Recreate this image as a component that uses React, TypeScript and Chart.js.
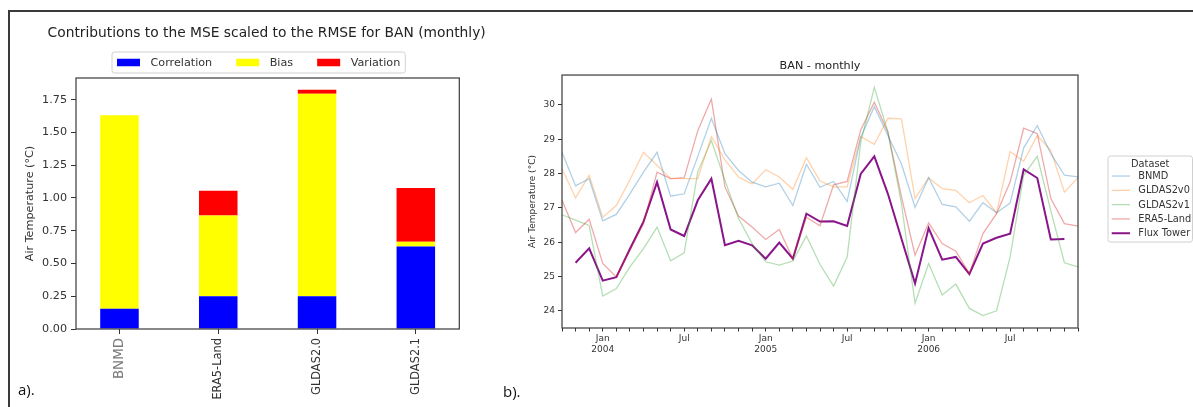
import React, { useEffect, useRef } from 'react';
import { Chart, registerables } from 'chart.js';

Chart.register(...registerables);

const FONT = "'DejaVu Sans', sans-serif";

// ---------- Panel a: stacked bars ----------
const barCategories = ['BNMD', 'ERA5-Land', 'GLDAS2.0', 'GLDAS2.1'];
const correlation = [0.155, 0.25, 0.25, 0.63];
const bias = [1.475, 0.615, 1.545, 0.035];
const variation = [0.0, 0.19, 0.03, 0.41];
const barYTicks = [0, 0.25, 0.5, 0.75, 1.0, 1.25, 1.5, 1.75];
const barTitle = 'Contributions to the MSE scaled to the RMSE for BAN (monthly)';
const barLegend = [
  { label: 'Correlation', color: '#0000ff' },
  { label: 'Bias', color: '#ffff00' },
  { label: 'Variation', color: '#ff0000' },
];

// ---------- Panel b: monthly lines ----------
const months = [
  '2003-10', '2003-11', '2003-12',
  '2004-01', '2004-02', '2004-03', '2004-04', '2004-05', '2004-06',
  '2004-07', '2004-08', '2004-09', '2004-10', '2004-11', '2004-12',
  '2005-01', '2005-02', '2005-03', '2005-04', '2005-05', '2005-06',
  '2005-07', '2005-08', '2005-09', '2005-10', '2005-11', '2005-12',
  '2006-01', '2006-02', '2006-03', '2006-04', '2006-05', '2006-06',
  '2006-07', '2006-08', '2006-09', '2006-10', '2006-11', '2006-12',
];
const majorMonths = ['2004-01', '2004-07', '2005-01', '2005-07', '2006-01', '2006-07'];
const majorLabels = [['Jan', '2004'], ['Jul'], ['Jan', '2005'], ['Jul'], ['Jan', '2006'], ['Jul']];
const lineYTicks = [24, 25, 26, 27, 28, 29, 30];

const bnmd = [28.62, 27.64, 27.85, 26.62, 26.81, 27.41, 28.04, 28.62, 27.34, 27.41, 28.5, 29.61, 28.58, 28.09, 27.75, 27.61, 27.72, 27.07, 28.27, 27.6, 27.77, 27.19, 29.06, 29.95, 29.11, 28.28, 27.01, 27.88, 27.1, 27.03, 26.61, 27.15, 26.86, 27.14, 28.75, 29.4, 28.58, 27.95, 27.9];
const gldas2v0 = [28.14, 27.29, 27.95, 26.73, 27.07, 27.82, 28.62, 28.24, 27.85, 27.85, 27.85, 29.08, 28.4, 27.9, 27.7, 28.11, 27.9, 27.54, 28.46, 27.78, 27.61, 27.61, 29.08, 28.85, 29.61, 29.59, 27.27, 27.88, 27.56, 27.51, 27.15, 27.36, 26.85, 28.64, 28.36, 29.11, 28.67, 27.46, 27.88];
const gldas2v1 = [26.8, 26.64, 26.49, 24.43, 24.65, 25.28, 25.81, 26.44, 25.46, 25.69, 28.05, 28.96, 27.8, 26.69, 25.96, 25.43, 25.33, 25.45, 26.18, 25.35, 24.72, 25.57, 28.91, 30.51, 29.21, 27.12, 24.22, 25.38, 24.46, 24.78, 24.07, 23.86, 24.0, 25.57, 27.95, 28.5, 26.91, 25.4, 25.28];
const era5Land = [27.22, 26.28, 26.67, 25.38, 24.99, 25.77, 26.54, 28.04, 27.85, 27.88, 29.25, 30.17, 27.61, 26.76, 26.44, 26.08, 26.37, 25.52, 26.73, 26.48, 27.67, 27.77, 29.27, 30.08, 29.21, 27.32, 25.62, 26.56, 25.96, 25.74, 25.09, 26.25, 26.83, 27.75, 29.32, 29.16, 27.27, 26.54, 26.47];
const fluxTower = [null, 25.4, 25.82, 24.88, 24.98, 25.8, 26.6, 27.75, 26.37, 26.18, 27.22, 27.85, 25.91, 26.04, 25.91, 25.52, 25.99, 25.52, 26.83, 26.6, 26.61, 26.47, 27.99, 28.5, 27.41, 26.1, 24.8, 26.41, 25.49, 25.57, 25.07, 25.96, 26.13, 26.25, 28.12, 27.87, 26.08, 26.09, null];

const lineSeries = [
  { label: 'BNMD', data: bnmd, color: 'rgba(31,119,180,0.35)', width: 1.3 },
  { label: 'GLDAS2v0', data: gldas2v0, color: 'rgba(255,127,14,0.35)', width: 1.3 },
  { label: 'GLDAS2v1', data: gldas2v1, color: 'rgba(44,160,44,0.35)', width: 1.3 },
  { label: 'ERA5-Land', data: era5Land, color: 'rgba(214,39,40,0.4)', width: 1.3 },
  { label: 'Flux Tower', data: fluxTower, color: 'rgba(128,0,128,0.92)', width: 2 },
];

const spinesPlugin = {
  id: 'spines',
  afterDatasetsDraw(chart: any) {
    const { ctx, chartArea: a } = chart;
    ctx.save();
    ctx.strokeStyle = '#3a3a3a';
    ctx.lineWidth = 1.2;
    ctx.strokeRect(a.left, a.top, a.right - a.left, a.bottom - a.top);
    ctx.restore();
  },
};

function roundRect(ctx: CanvasRenderingContext2D, x: number, y: number, w: number, h: number, r: number) {
  ctx.beginPath();
  ctx.moveTo(x + r, y);
  ctx.lineTo(x + w - r, y);
  ctx.quadraticCurveTo(x + w, y, x + w, y + r);
  ctx.lineTo(x + w, y + h - r);
  ctx.quadraticCurveTo(x + w, y + h, x + w - r, y + h);
  ctx.lineTo(x + r, y + h);
  ctx.quadraticCurveTo(x, y + h, x, y + h - r);
  ctx.lineTo(x, y + r);
  ctx.quadraticCurveTo(x, y, x + r, y);
  ctx.closePath();
}

// Title + legend of panel a, drawn above the plot area
const barHeaderPlugin = {
  id: 'barHeader',
  afterDraw(chart: any) {
    const { ctx, chartArea: a } = chart;
    ctx.save();
    // title
    ctx.font = `13.8px ${FONT}`;
    ctx.fillStyle = '#222';
    ctx.textAlign = 'center';
    ctx.textBaseline = 'middle';
    ctx.fillText(barTitle, (a.left + a.right) / 2 - 1, a.top - 45);
    // legend
    ctx.font = `11.2px ${FONT}`;
    const boxW = 23, boxH = 7.5, gap = 10.5, colSp = 24, padX = 5;
    const widths = barLegend.map((it) => ctx.measureText(it.label).width);
    let total = 0;
    widths.forEach((w, i) => { total += boxW + gap + w + (i > 0 ? colSp : 0); });
    const cx = (a.left + a.right) / 2 - 9;
    const top = a.top - 26;
    const h = 21;
    let x = cx - total / 2;
    ctx.fillStyle = 'rgba(255,255,255,0.8)';
    ctx.strokeStyle = '#d0d0d0';
    ctx.lineWidth = 1;
    roundRect(ctx, x - padX, top, total + 2 * padX, h, 2.5);
    ctx.fill();
    ctx.stroke();
    const cy = top + h / 2;
    ctx.textAlign = 'left';
    barLegend.forEach((it, i) => {
      ctx.fillStyle = it.color;
      ctx.fillRect(x, cy - boxH / 2, boxW, boxH);
      ctx.fillStyle = '#333';
      ctx.fillText(it.label, x + boxW + gap, cy + 0.5);
      x += boxW + gap + widths[i] + colSp;
    });
    ctx.restore();
  },
};

const lineLegendPlugin = {
  id: 'lineLegend',
  afterDraw(chart: any) {
    const { ctx, chartArea: a } = chart;
    ctx.save();
    const left = a.right + 30;
    const top = a.top + 81;
    const w = 84.5, h = 86;
    ctx.fillStyle = 'rgba(255,255,255,0.8)';
    ctx.strokeStyle = '#d0d0d0';
    ctx.lineWidth = 1;
    roundRect(ctx, left, top, w, h, 2.5);
    ctx.fill();
    ctx.stroke();
    ctx.textBaseline = 'middle';
    ctx.font = `9.8px ${FONT}`;
    ctx.fillStyle = '#333';
    ctx.textAlign = 'center';
    ctx.fillText('Dataset', left + w / 2, top + 8.5);
    ctx.textAlign = 'left';
    lineSeries.forEach((s, i) => {
      const y = top + 20 + i * 14.3;
      ctx.strokeStyle = s.color;
      ctx.lineWidth = s.width;
      ctx.beginPath();
      ctx.moveTo(left + 3.7, y);
      ctx.lineTo(left + 22, y);
      ctx.stroke();
      ctx.fillStyle = '#333';
      ctx.fillText(s.label, left + 30.3, y + 0.5);
    });
    ctx.restore();
  },
};

function BarPanel() {
  const ref = useRef<HTMLCanvasElement>(null);
  useEffect(() => {
    const toXY = (arr: number[]) => arr.map((v, i) => ({ x: i, y: v }));
    const chart = new Chart(ref.current as HTMLCanvasElement, {
      type: 'bar',
      data: {
        datasets: [
          { label: 'Correlation', data: toXY(correlation), backgroundColor: '#0000ff' },
          { label: 'Bias', data: toXY(bias), backgroundColor: '#ffff00' },
          { label: 'Variation', data: toXY(variation), backgroundColor: '#ff0000' },
        ] as any,
      },
      options: {
        responsive: false,
        animation: false,
        devicePixelRatio: 1,
        layout: { padding: { left: 0, right: 38.7, top: 66, bottom: 0 } },
        datasets: { bar: { categoryPercentage: 1, barPercentage: 0.39 } } as any,
        plugins: {
          legend: { display: false },
          tooltip: { enabled: false },
          title: { display: false },
        },
        scales: {
          x: {
            type: 'linear',
            offset: false,
            min: -0.44,
            max: 3.44,
            stacked: true,
            afterBuildTicks: (s: any) => { s.ticks = barCategories.map((_, i) => ({ value: i })); },
            afterFit: (s: any) => { s.height = 78; },
            ticks: {
              autoSkip: false,
              minRotation: 90,
              maxRotation: 90,
              padding: 4,
              callback: (v: any) => barCategories[Math.round(Number(v))],
              font: (c: any) => ({ family: FONT, size: c.index === 0 ? 13.4 : 11.4 }),
              color: (c: any) => (c.index === 0 ? '#7a7a7a' : '#333'),
            },
            grid: { offset: false, drawOnChartArea: false, tickLength: 5, color: '#333' },
            border: { display: false },
          },
          y: {
            type: 'linear',
            min: 0,
            max: 1.915,
            stacked: true,
            afterBuildTicks: (s: any) => { s.ticks = barYTicks.map((v) => ({ value: v })); },
            afterFit: (s: any) => { s.width = 68; },
            ticks: {
              padding: 4,
              callback: (v: any) => Number(v).toFixed(2),
              font: { family: FONT, size: 11.2 },
              color: '#333',
            },
            grid: { drawOnChartArea: false, tickLength: 5, color: '#333' },
            border: { display: false },
            title: {
              display: true,
              text: 'Air Temperature (°C)',
              color: '#333',
              font: { family: FONT, size: 11.2 },
              padding: { top: 15, bottom: 0 },
            },
          },
        },
      } as any,
      plugins: [spinesPlugin, barHeaderPlugin],
    });
    return () => chart.destroy();
  }, []);
  return <canvas ref={ref} width={490} height={395} style={{ position: 'absolute', left: 8, top: 12, width: 490, height: 395 }} />;
}

function LinePanel() {
  const ref = useRef<HTMLCanvasElement>(null);
  useEffect(() => {
    const chart = new Chart(ref.current as HTMLCanvasElement, {
      type: 'line',
      data: {
        labels: months,
        datasets: lineSeries.map((s) => ({
          label: s.label,
          data: s.data,
          borderColor: s.color,
          backgroundColor: s.color,
          borderWidth: s.width,
          pointRadius: 0,
          tension: 0,
          spanGaps: false,
        })) as any,
      },
      options: {
        responsive: false,
        animation: false,
        devicePixelRatio: 1,
        layout: { padding: { left: 0, right: 115, top: 0, bottom: 0 } },
        plugins: {
          legend: { display: false },
          tooltip: { enabled: false },
          title: {
            display: true,
            text: 'BAN - monthly',
            fullSize: false,
            color: '#222',
            font: { family: FONT, size: 11.2, weight: 'normal', lineHeight: 1.2 },
            padding: { top: 47.3, bottom: 2.3 },
          },
        },
        scales: {
          x: {
            type: 'category',
            offset: false,
            afterFit: (s: any) => { s.height = 79; },
            ticks: {
              autoSkip: false,
              minRotation: 0,
              maxRotation: 0,
              padding: 2,
              callback: (_v: any, i: number) => {
                const k = majorMonths.indexOf(months[i]);
                return k >= 0 ? majorLabels[k] : '';
              },
              font: { family: FONT, size: 9, lineHeight: 1.2 },
              color: '#333',
            },
            grid: { drawOnChartArea: false, tickLength: 3.5, color: '#333' },
            border: { display: false },
          },
          y: {
            type: 'linear',
            min: 23.5,
            max: 30.87,
            afterBuildTicks: (s: any) => { s.ticks = lineYTicks.map((v) => ({ value: v })); },
            afterFit: (s: any) => { s.width = 62; },
            ticks: {
              padding: 3,
              callback: (v: any) => String(v),
              font: { family: FONT, size: 9 },
              color: '#333',
            },
            grid: { drawOnChartArea: false, tickLength: 4, color: '#333' },
            border: { display: false },
            title: {
              display: true,
              text: 'Air Temperature (°C)',
              color: '#333',
              font: { family: FONT, size: 9 },
              padding: { top: 27.6, bottom: 0 },
            },
          },
        },
      } as any,
      plugins: [spinesPlugin, lineLegendPlugin],
    });
    return () => chart.destroy();
  }, []);
  return <canvas ref={ref} width={693} height={395} style={{ position: 'absolute', left: 500, top: 12, width: 693, height: 395 }} />;
}

export default function App() {
  return (
    <div style={{ position: 'fixed', left: 0, top: 0, width: 1193, height: 407, background: '#fff', overflow: 'hidden' }}>
      <BarPanel />
      <LinePanel />
      <div style={{ position: 'absolute', left: 8, top: 10, width: 1185, height: 397, borderTop: '2px solid #3a3a3a', borderLeft: '2px solid #3a3a3a', boxSizing: 'border-box', pointerEvents: 'none' }} />
      <div style={{ position: 'absolute', left: 18, top: 379, fontFamily: "'Open Sans', sans-serif", fontSize: 15, lineHeight: '20px', color: '#111' }}>a).</div>
      <div style={{ position: 'absolute', left: 503, top: 381, fontFamily: "'Open Sans', sans-serif", fontSize: 15, lineHeight: '20px', color: '#111' }}>b).</div>
    </div>
  );
}
